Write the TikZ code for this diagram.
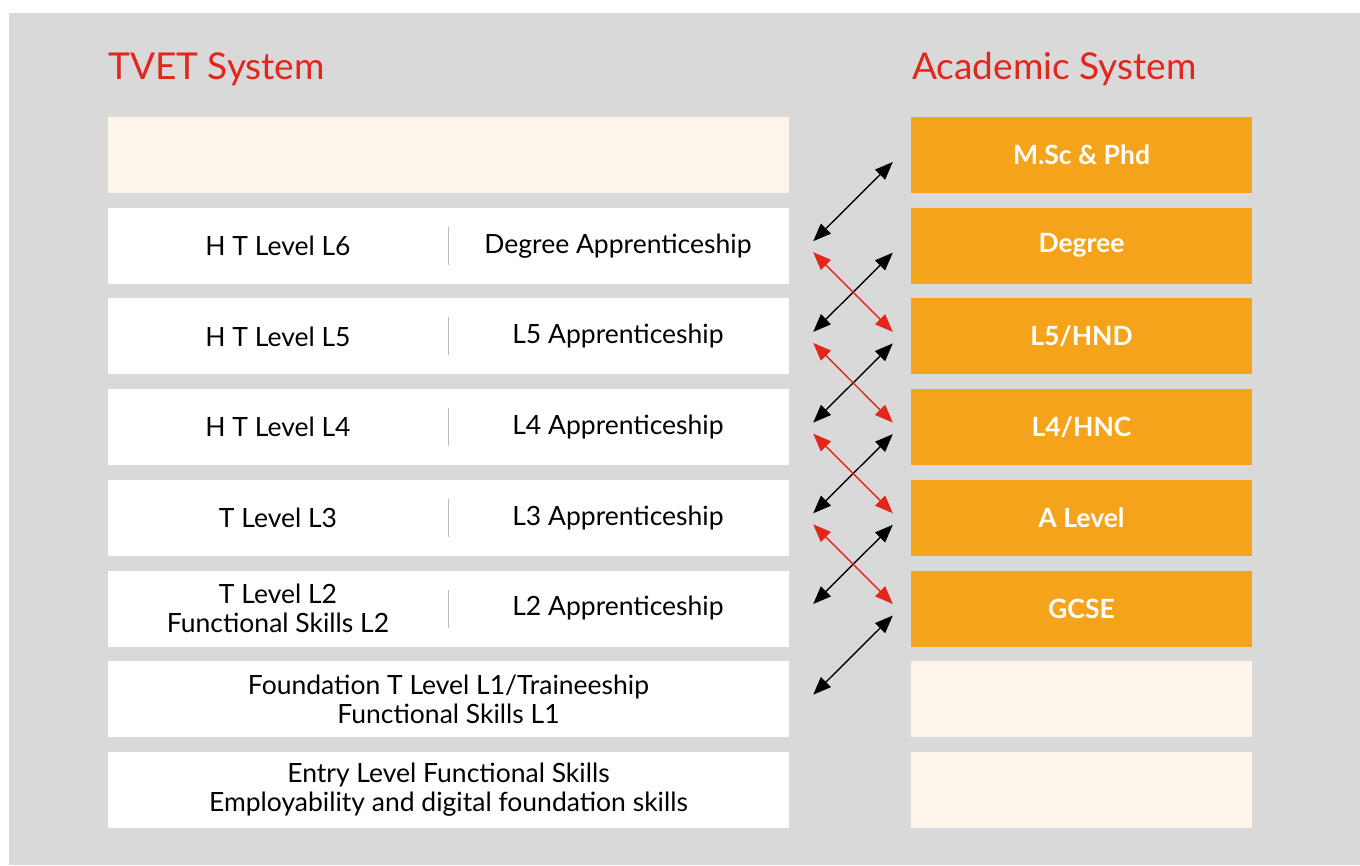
\documentclass[tikz,border=0pt]{standalone}
\usepackage{fontspec}
\setmainfont{Lato}
\usetikzlibrary{calc,arrows.meta}
\definecolor{bggray}{HTML}{D9D9D9}
\definecolor{cream}{HTML}{FDF5EA}
\definecolor{orangebox}{HTML}{F5A31A}
\definecolor{titlered}{HTML}{E3261B}
\definecolor{divgray}{HTML}{BDBDBD}
\begin{document}
\begin{tikzpicture}[x=1pt,y=-1pt,
  bodyfont/.style={font=\fontsize{26.5}{29}\selectfont},
  lbox/.style={fill=white,draw=none,minimum width=681pt,minimum height=76pt,inner sep=0pt},
  lcream/.style={lbox,fill=cream},
  rbox/.style={fill=orangebox,draw=none,minimum width=341pt,minimum height=76pt,inner sep=0pt,
    text=white,font=\fontsize{26.5}{29}\selectfont\bfseries},
  rcream/.style={rbox,fill=cream},
  ltext/.style={bodyfont,align=center,inner sep=0pt},
  ttl/.style={font=\fontsize{37}{40}\selectfont,text=titlered,anchor=base west,inner sep=0pt},
  divider/.style={draw=divgray,line width=1.2pt},
  blk/.style={draw=black,line width=1.4pt,{Triangle[length=18pt,width=14pt]}-{Triangle[length=18pt,width=14pt]}},
  rdd/.style={draw=titlered,line width=1.4pt,{Triangle[length=18pt,width=14pt]}-{Triangle[length=18pt,width=14pt]}}
]
\useasboundingbox (0,0) rectangle (1360,865);
\fill[bggray] (9,13) rectangle (1360,865);

\node[ttl] (t1) at (108,79) {TVET System};
\node[ttl] (t2) at (912,79) {Academic System};

% left boxes
\node[lcream] (l0) at (448.5,155.0) {};
\node[lbox] (l1) at (448.5,245.7) {};
\node[lbox] (l2) at (448.5,336.4) {};
\node[lbox] (l3) at (448.5,427.1) {};
\node[lbox] (l4) at (448.5,517.8) {};
\node[lbox] (l5) at (448.5,608.5) {};
\node[lbox,align=center,bodyfont] (l6) at (448.5,699.2) {Foundation T Level L1/Traineeship\\Functional Skills L1};
\node[lbox,align=center,bodyfont] (l7) at (448.5,789.9) {Entry Level Functional Skills\\Employability and digital foundation skills};

% left texts
\node[ltext] (a1) at (278,245.7) {H T Level L6};
\node[ltext] (b1) at (618,245.7) {Degree Apprenticeship};
\node[ltext] (a2) at (278,336.4) {H T Level L5};
\node[ltext] (b2) at (618,336.4) {L5 Apprenticeship};
\node[ltext] (a3) at (278,427.1) {H T Level L4};
\node[ltext] (b3) at (618,427.1) {L4 Apprenticeship};
\node[ltext] (a4) at (278,517.8) {T Level L3};
\node[ltext] (b4) at (618,517.8) {L3 Apprenticeship};
\node[ltext] (a5) at (278,608.5) {T Level L2\\Functional Skills L2};
\node[ltext] (b5) at (618,608.5) {L2 Apprenticeship};

% dividers
\foreach \r in {l1,l2,l3,l4,l5}{
  \draw[divider] ($(\r.center)+(0,-19)$) -- ($(\r.center)+(0,19)$);
}

% right boxes
\node[rbox] (r0) at (1081.5,155.0) {M.Sc \& Phd};
\node[rbox] (r1) at (1081.5,245.7) {Degree};
\node[rbox] (r2) at (1081.5,336.4) {L5/HND};
\node[rbox] (r3) at (1081.5,427.1) {L4/HNC};
\node[rbox] (r4) at (1081.5,517.8) {A Level};
\node[rbox] (r5) at (1081.5,608.5) {GCSE};
\node[rcream] (r6) at (1081.5,699.2) {};
\node[rcream] (r7) at (1081.5,789.9) {};

% black arrows
\foreach \i/\j in {1/0,2/1,3/2,4/3,5/4,6/5}{
  \coordinate (bl\i) at ($(l\i.east)+(24,-4.5)$);
  \coordinate (br\j) at ($(r\j.west)+(-18,7)$);
  \draw[blk] (bl\i) -- (br\j);
}
% red arrows
\foreach \i/\j in {1/2,2/3,3/4,4/5}{
  \coordinate (rl\i) at ($(l\i.east)+(24,6.5)$);
  \coordinate (rr\j) at ($(r\j.west)+(-18,-4.5)$);
  \draw[rdd] (rl\i) -- (rr\j);
}
\end{tikzpicture}
\end{document}
